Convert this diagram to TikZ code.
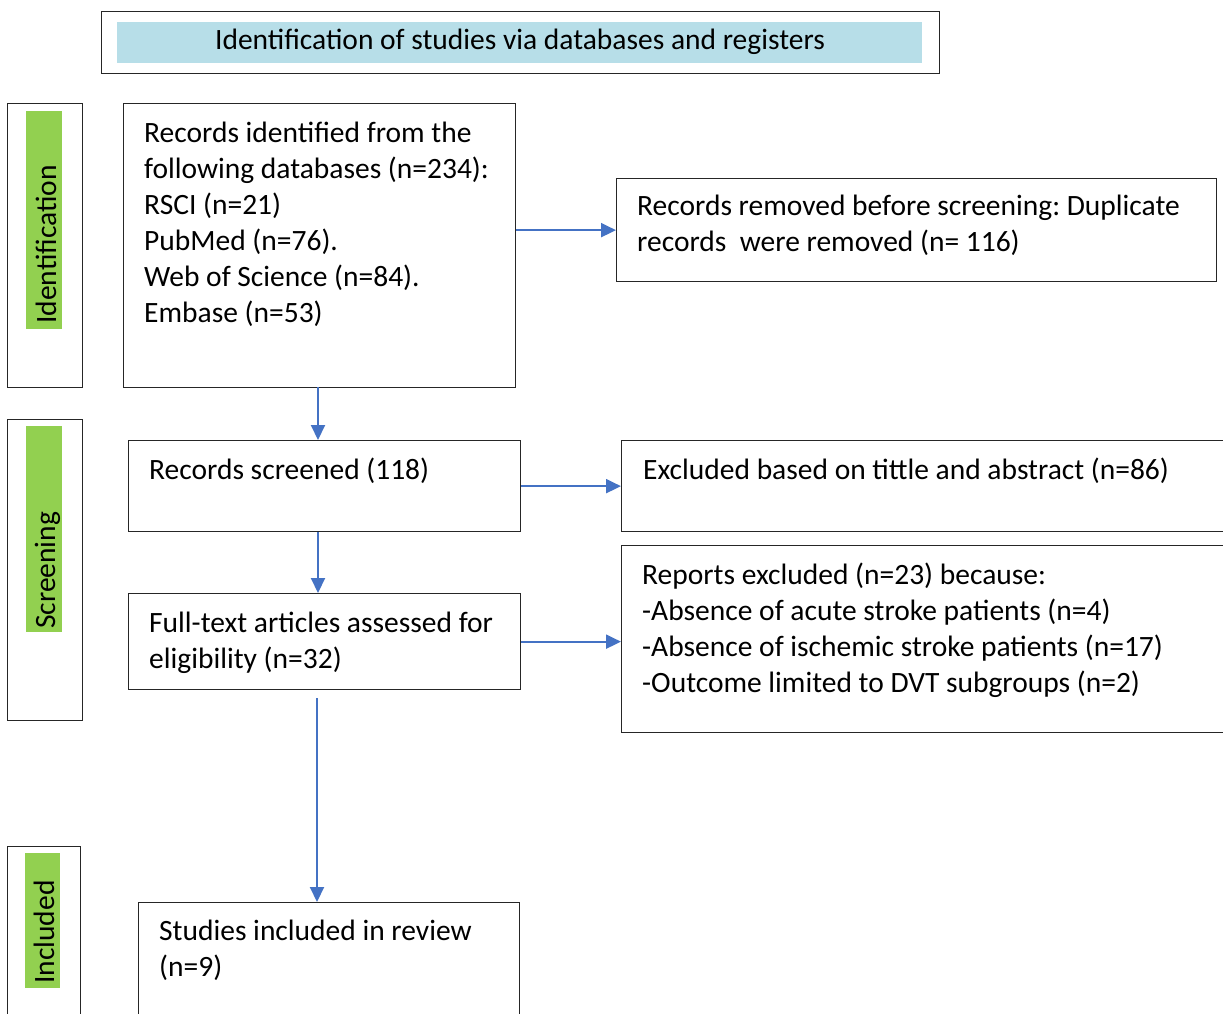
\documentclass[tikz,border=0pt]{standalone}
\usepackage{fontspec}
\setmainfont{Carlito}
\usetikzlibrary{arrows.meta}
\definecolor{arrowblue}{HTML}{4472C4}
\definecolor{lblgreen}{HTML}{92D050}
\definecolor{titleblue}{HTML}{B7DEE8}
\frenchspacing
\begin{document}
\begin{tikzpicture}[x=1pt,y=-1pt,
  frame/.style={draw=black!85, line width=1.3pt, fill=white, inner sep=0pt, anchor=north west},
  greenbar/.style={fill=lblgreen, draw=none, inner sep=0pt, anchor=north west},
  txt/.style={inner sep=0pt, anchor=north west, align=left, font=\fontsize{29.5}{36}\selectfont\frenchspacing},
  sidetxt/.style={inner sep=0pt, rotate=90, anchor=base west, font=\fontsize{29.5}{36}\selectfont},
  arr/.style={draw=arrowblue, line width=2pt, -{Triangle[length=15pt,width=14pt]}}]
\useasboundingbox (0,0) rectangle (1223,1013);
\fill[white] (0,0) rectangle (1223,1013);
\clip (0,0) rectangle (1223,1013);

% title
\node[frame, minimum width=838, minimum height=62] (title) at (101,11) {};
\node[greenbar, fill=titleblue, minimum width=805, minimum height=41] (titlefill) at (117,22) {};
\node[inner sep=0pt, anchor=base, font=\fontsize{29.5}{36}\selectfont] (titletxt) at (520,49) {Identification of studies via databases and registers};

% side labels
\node[frame, minimum width=75, minimum height=284] (sid) at (7,103) {};
\node[greenbar, minimum width=36, minimum height=218] (gid) at (26,111) {};
\node[sidetxt] (lid) at (56,324) {Identification};

\node[frame, minimum width=75, minimum height=301] (ssc) at (7,419) {};
\node[greenbar, minimum width=36, minimum height=206] (gsc) at (26,426) {};
\node[sidetxt] (lsc) at (55,629) {Screening};

\node[frame, minimum width=73, minimum height=200] (sin) at (7,846) {};
\node[greenbar, minimum width=35, minimum height=135] (gin) at (25,853) {};
\node[sidetxt] (lin) at (54,984) {Included};

% main boxes
\node[frame, minimum width=392, minimum height=284] (b1) at (123,103) {};
\node[txt] (t1) at (144,117) {\strut Records identified from the\\following databases (n=234):\\RSCI (n=21)\\PubMed (n=76).\\Web of Science (n=84).\\Embase (n=53)};

\node[frame, minimum width=600, minimum height=103] (r1) at (616,178) {};
\node[txt] (tr1) at (637,190) {\strut Records removed before screening: Duplicate\\records\ \ were removed (n= 116)};

\node[frame, minimum width=392, minimum height=91] (b2) at (128,440) {};
\node[txt] (t2) at (149,454) {\strut Records screened (118)};

\node[frame, minimum width=620, minimum height=91] (r2) at (621,440) {};
\node[txt] (tr2) at (643,454) {\strut Excluded based on tittle and abstract (n=86)};

\node[frame, minimum width=392, minimum height=96] (b3) at (128,593) {};
\node[txt] (t3) at (149,607) {\strut Full-text articles assessed for\\eligibility (n=32)};

\node[frame, minimum width=620, minimum height=187] (r3) at (621,545) {};
\node[txt] (tr3) at (642,559) {\strut Reports excluded (n=23) because:\\-Absence of acute stroke patients (n=4)\\-Absence of ischemic stroke patients (n=17)\\-Outcome limited to DVT subgroups (n=2)};

\node[frame, minimum width=381, minimum height=150] (b4) at (138,902) {};
\node[txt] (t4) at (159,915) {\strut Studies included in review\\(n=9)};

% connectors
\coordinate (c1) at (318,387);
\coordinate (c3) at (317,698);
\draw[arr] (b1.east |- r1.west) -- (r1.west);
\draw[arr] (c1) -- (c1 |- b2.north);
\draw[arr] (b2.east) -- (r2.west);
\draw[arr] (c1 |- b2.south) -- (c1 |- b3.north);
\draw[arr] (b3.east) -- (b3.east -| r3.west);
\draw[arr] (c3) -- (c3 |- b4.north);
\end{tikzpicture}
\end{document}
